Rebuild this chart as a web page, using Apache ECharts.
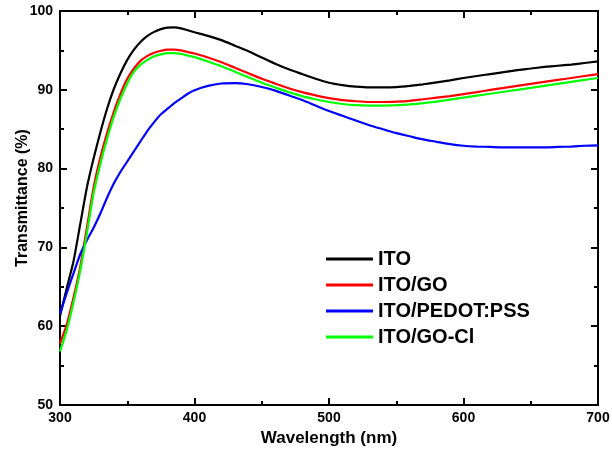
<!DOCTYPE html>
<html>
<head>
<meta charset="utf-8">
<script src="https://cdn.jsdelivr.net/npm/echarts@6/dist/echarts.min.js"></script>
<style>html,body{margin:0;padding:0;background:#fff}#c{width:612px;height:457px}</style>
</head>
<body>
<div id="c"></div>
<script>
const wavelengths = [300,305,310,315,320,325,330,335,340,345,350,355,360,365,370,375,380,385,390,395,400,410,420,430,440,450,460,470,480,490,500,510,520,530,540,550,560,570,580,590,600,610,620,630,640,650,660,670,680,690,700];
const ito = [61.3,64.8,68.2,72.9,77.6,81.3,84.6,87.6,90.1,92.1,93.8,95.1,96.1,96.85,97.35,97.7,97.9,97.92,97.8,97.55,97.3,96.85,96.3,95.6,94.9,94.1,93.3,92.6,92.0,91.4,90.9,90.6,90.4,90.3,90.3,90.35,90.5,90.7,90.95,91.2,91.5,91.75,92.0,92.25,92.5,92.7,92.9,93.05,93.2,93.4,93.6];
const itoGo = [57.8,60.2,63.6,67.5,72.5,77.6,81.4,84.5,87.2,89.5,91.4,92.7,93.7,94.3,94.7,94.95,95.1,95.1,95.0,94.8,94.6,94.1,93.5,92.8,92.1,91.4,90.8,90.2,89.7,89.3,88.95,88.7,88.55,88.45,88.45,88.5,88.6,88.8,89.0,89.2,89.45,89.7,90.0,90.25,90.5,90.75,91.0,91.25,91.5,91.75,92.0];
const itoPedot = [61.6,64.2,66.7,69.1,70.9,72.5,74.3,76.3,78.1,79.6,80.9,82.2,83.5,84.8,85.9,86.9,87.6,88.3,88.9,89.5,89.95,90.5,90.8,90.85,90.7,90.35,89.9,89.3,88.7,88.0,87.3,86.7,86.1,85.5,85.0,84.5,84.1,83.7,83.4,83.1,82.9,82.8,82.75,82.7,82.7,82.7,82.7,82.75,82.8,82.9,82.95];
const itoGoCl = [56.8,59.5,63.0,67.0,71.8,76.9,80.6,83.8,86.6,88.9,90.8,92.3,93.2,93.8,94.25,94.5,94.65,94.65,94.55,94.35,94.15,93.6,93.0,92.3,91.6,90.9,90.3,89.7,89.2,88.8,88.45,88.2,88.05,88.0,88.0,88.05,88.15,88.3,88.5,88.75,89.0,89.25,89.5,89.75,90.0,90.25,90.5,90.75,91.0,91.25,91.5];
const seriesNames = ['ITO','ITO/GO','ITO/PEDOT:PSS','ITO/GO-Cl'];
const seriesColors = ['#000000','#ff0000','#0000ff','#00ff00'];
const seriesValues = [ito, itoGo, itoPedot, itoGoCl];

const FONT = '"Liberation Sans", Arial, sans-serif';
const chart = echarts.init(document.getElementById('c'), null, {renderer:'canvas'});
const axisLine = {show:true, onZero:false, lineStyle:{color:'#000', width:2}};
const tick = {show:true, inside:true, length:7, lineStyle:{color:'#000', width:2}};
const minor = {show:true, splitNumber:2, length:4, lineStyle:{color:'#000', width:2}};
const lbl = {color:'#000', fontFamily:FONT, fontWeight:'bold', fontSize:14};
chart.setOption({
  animation:false,
  backgroundColor:'#fff',
  grid:{left:60, right:14, top:11, bottom:52, containLabel:false, outerBoundsMode:'none'},
  legend:{
    orient:'vertical', left:321, top:244,
    itemWidth:47, itemHeight:3, itemGap:6, icon:'rect',
    textStyle:{color:'#000', fontFamily:FONT, fontWeight:'bold', fontSize:20, lineHeight:20},
    data: seriesNames
  },
  xAxis:[{
    type:'value', min:300, max:700, interval:100, position:'bottom',
    name:'Wavelength (nm)', nameLocation:'middle', nameGap:24,
    nameTextStyle:{color:'#000', fontFamily:FONT, fontWeight:'bold', fontSize:17},
    axisLine:axisLine, axisTick:tick, minorTick:minor, splitLine:{show:false},
    axisLabel:Object.assign({margin:6}, lbl)
  },{
    type:'value', min:300, max:700, interval:100, position:'top',
    axisLine:axisLine, axisTick:tick, minorTick:minor, splitLine:{show:false}, axisLabel:{show:false}
  }],
  yAxis:[{
    type:'value', min:50, max:100, interval:10, position:'left',
    name:'Transmittance (%)', nameLocation:'middle', nameGap:29, nameMoveOverlap:false,
    nameTextStyle:{color:'#000', fontFamily:FONT, fontWeight:'bold', fontSize:16, padding:[0,0,0,20]},
    axisLine:axisLine, axisTick:tick, minorTick:minor, splitLine:{show:false},
    axisLabel:Object.assign({margin:7}, lbl)
  },{
    type:'value', min:50, max:100, interval:10, position:'right',
    axisLine:axisLine, axisTick:tick, minorTick:minor, splitLine:{show:false}, axisLabel:{show:false}
  }],
  series: seriesNames.map((n,i)=>({
    name:n, type:'line', xAxisIndex:0, yAxisIndex:0,
    showSymbol:false, symbol:'none', smooth:0.2,
    color:seriesColors[i],
    lineStyle:{color:seriesColors[i], width:2.2},
    data: wavelengths.map((w,j)=>[w, seriesValues[i][j]])
  }))
});
</script>
</body>
</html>
